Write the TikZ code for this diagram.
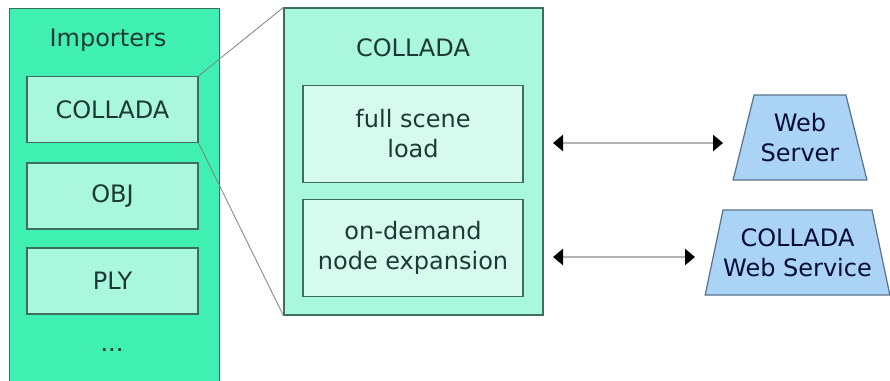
\documentclass[tikz,border=0pt]{standalone}
\usepackage{fontspec}
\setmainfont{DejaVu Sans}
\usepackage{tikz}
\usetikzlibrary{arrows.meta,shapes.geometric}
\definecolor{impgreen}{HTML}{3FF0B2}
\definecolor{boxgreen}{HTML}{A9F7DC}
\definecolor{palegreen}{HTML}{D6FBEE}
\definecolor{edgegreen}{HTML}{3D6E60}
\definecolor{srvblue}{HTML}{AAD3F5}
\definecolor{edgeblue}{HTML}{56718C}
\definecolor{inkgreen}{HTML}{1C3A31}

\begin{document}
\begin{tikzpicture}[
      x=1pt, y=-1pt,
      every node/.style={font=\fontsize{24}{30}\selectfont, text=inkgreen, align=center},
      panel/.style={draw=edgegreen, line width=1.2pt, inner sep=0pt},
      ibox/.style={
        draw=edgegreen, fill=boxgreen, line width=1.2pt,
        minimum width=171pt, minimum height=66pt
      },
      mbox/.style={
        draw=edgegreen, fill=palegreen, line width=1.2pt,
        minimum width=220pt, minimum height=97pt
      },
      server/.style={
        trapezium, trapezium angle=72, trapezium stretches=true,
        draw=edgeblue, fill=srvblue, line width=1.2pt, inner xsep=0pt,
        minimum height=85pt, text=inkgreen!60!blue!40!black
      },
      zoomline/.style={draw=gray, line width=0.8pt},
      link/.style={
        draw=gray!60, line width=2.4pt,
        {Triangle[black,length=10pt,width=16pt]}-{Triangle[black,length=10pt,width=16pt]}
      }
    ]
      \useasboundingbox (0,0) rectangle (890,380);

      % importers column
      \node[panel, fill=impgreen, minimum width=210pt, minimum height=376pt,
        anchor=north west] (imp) at (9,8){};
      \node (imptitle) at (108,40){Importers};
      \node[ibox] (col) at (112.5,109.5){COLLADA};
      \node[ibox] (obj) at (112.5,196){OBJ};
      \node[ibox] (ply) at (112.5,281){PLY};
      \node (more) at (112,350){...};

      % zoomed COLLADA importer
      \node[panel, fill=boxgreen, minimum width=259pt, minimum height=307pt] (mid) at (413.5,161.5){};
      \node (midtitle) at (413,48){COLLADA};
      \node[mbox] (full) at (413,134){full scene\\load};
      \node[mbox] (ondemand) at (413,248){on-demand\\node expansion};

      \draw[zoomline] (col.north east) -- (mid.north west);
      \draw[zoomline] (col.south east) -- (mid.south west);

      % services
      \node[server, minimum width=134pt] (web) at (800,137.5){Web\\Server};
      \node[server, minimum width=185pt] (cws) at (797.5,252.5){COLLADA\\Web Service};

      \coordinate (l1a) at (553,143);
      \coordinate (l1b) at (723,143);
      \coordinate (l2a) at (553,257);
      \coordinate (l2b) at (695,257);
      \draw[link] (l1a) -- (l1b);
      \draw[link] (l2a) -- (l2b);
    \end{tikzpicture}
\end{document}
